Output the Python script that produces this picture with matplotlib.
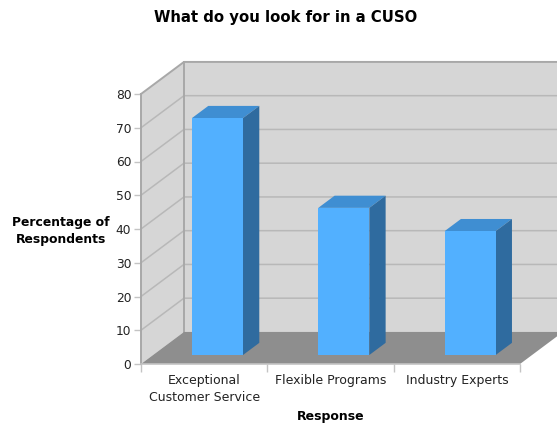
import matplotlib
matplotlib.use("Agg")
import matplotlib.pyplot as plt
from matplotlib.patches import Polygon

categories = ["Exceptional\nCustomer Service", "Flexible Programs", "Industry Experts"]
values = [70.2, 43.6, 36.7]
y_ticks = [0, 10, 20, 30, 40, 50, 60, 70, 80]

# depth of the fake 3d box, in data units
dx = 0.34
dy = 9.5
# bar placement along the depth
bar_off = 0.28
bar_depth = 0.38
bar_width = 0.404

wall = "#d6d6d6"
grid = "#b8b8b8"
edge = "#a8a8a8"
floor = "#8e8e8e"

W, H = 557, 426
fig = plt.figure(figsize=(W / 100, H / 100), dpi=100)
ax = fig.add_axes([141 / W, (H - 364) / H, 379 / W, 270 / H])
ax.set_xlim(0, 3)
ax.set_ylim(0, 80)
ax.patch.set_visible(False)
for s in ax.spines.values():
    s.set_visible(False)

n = len(categories)
right = n + dx * 3  # runs past the edge of the figure

# walls and floor
ax.add_patch(Polygon([(dx, dy), (right, dy), (right, 80 + dy), (dx, 80 + dy)], fc=wall, ec="none", clip_on=False, zorder=1))
ax.add_patch(Polygon([(0, 0), (dx, dy), (dx, 80 + dy), (0, 80)], fc=wall, ec="none", clip_on=False, zorder=1))
ax.add_patch(Polygon([(0, 0), (n, 0), (n + dx, dy), (dx, dy)], fc=floor, ec="none", clip_on=False, zorder=3))

# gridlines on back wall and side wall
for t in y_ticks[1:-1]:
    ax.plot([0, dx, right], [t, t + dy, t + dy], color=grid, lw=1.1, clip_on=False, zorder=2)
ax.plot([0, dx, right], [80, 80 + dy, 80 + dy], color=edge, lw=1.4, clip_on=False, zorder=2)
ax.plot([dx, dx], [dy, 80 + dy], color=edge, lw=1.4, clip_on=False, zorder=2)
ax.plot([0, 0], [0, 80], color=edge, lw=1.4, clip_on=False, zorder=4)
ax.plot([0, n], [0, 0], color="#c4c4c4", lw=1.2, clip_on=False, zorder=4)

# bars: front face plus top and side faces
base = bar_off * dy
for i, v in enumerate(values):
    x0 = i + 0.5 + bar_off * dx - bar_width / 2 + 0.01
    x1 = x0 + bar_width
    ddx = bar_depth * dx
    ddy = bar_depth * dy
    ax.bar(x0, v, width=bar_width, bottom=base, align="edge", color="#52b0ff", zorder=6)
    ax.add_patch(Polygon([(x0, base + v), (x1, base + v), (x1 + ddx, base + v + ddy), (x0 + ddx, base + v + ddy)], fc="#3f8ed2", ec="none", zorder=5))
    ax.add_patch(Polygon([(x1, base), (x1 + ddx, base + ddy), (x1 + ddx, base + v + ddy), (x1, base + v)], fc="#2f6b9f", ec="none", zorder=5))

ax.set_yticks(y_ticks)
ax.set_xticks(range(n + 1))
ax.set_xticklabels([])
ax.set_xticks([i + 0.5 for i in range(n)], labels=categories, minor=True)
ax.tick_params(axis="y", length=5, width=1, color="#c4c4c4", labelsize=8.8, labelcolor="#222222", pad=2)
ax.tick_params(axis="x", which="major", length=6, width=1, color="#c4c4c4")
ax.tick_params(axis="x", which="minor", length=0, labelsize=9, labelcolor="#222222", pad=7.5)
for lab in ax.get_xticklabels(minor=True):
    lab.set_linespacing(1.35)

fig.text(286 / W, 1 - 17.5 / H, "What do you look for in a CUSO", ha="center", va="center", fontsize=10.7, fontweight="bold", color="black")
fig.text(61 / W, 1 - 231 / H, "Percentage of\nRespondents", ha="center", va="center", fontsize=8.9, fontweight="bold", color="black", linespacing=1.4)
fig.text(331 / W, 1 - 416.5 / H, "Response", ha="center", va="center", fontsize=9, fontweight="bold", color="black")

fig.savefig("out.png", dpi=100)
